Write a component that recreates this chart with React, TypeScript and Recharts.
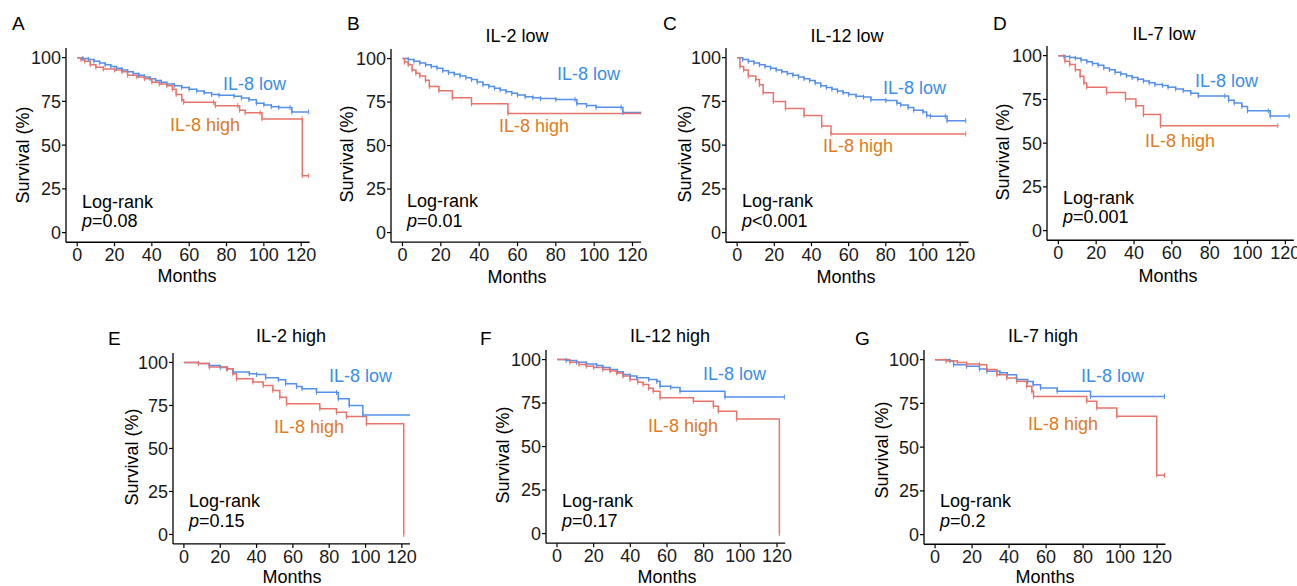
import React from "react"
import { LineChart, Line, XAxis, YAxis } from "recharts"

const monthTicks = [0, 20, 40, 60, 80, 100, 120]
const survTicks = [0, 25, 50, 75, 100]

const panelLetters = ["A", "B", "C", "D", "E", "F", "G"]
const panelTitles = ["", "IL-2 low", "IL-12 low", "IL-7 low", "IL-2 high", "IL-12 high", "IL-7 high"]
const pValues = ["=0.08", "=0.01", "<0.001", "=0.001", "=0.15", "=0.17", "=0.2"]

// [month, survival %]
const lowA = [[0,100],[3,99.5],[6,99],[9,98],[12,97],[15,96],[18,95],[21,94],[24,93],[27,92],[30,91],[33,90],[36,89],[39,88],[42,87],[45,86],[48,85],[52,84],[56,83],[60,82],[64,81],[68,80],[72,79],[76,78.5],[84,78],[88,77],[92,76],[96,74],[100,73],[104,72],[108,71.5],[114,71.5],[115,69],[124,69]]
const highA = [[0,100],[2,99],[4,98],[7,96],[10,94.5],[14,93.5],[20,93],[24,92],[27,90],[32,89],[36,88],[40,86],[44,85],[48,84],[51,82],[53,79],[56,76],[57,74.5],[73,74.5],[74,72.5],[86,72.5],[87,70],[90,68.5],[98,68.5],[99,65],[120.5,65],[120.6,32.5],[124,32.5]]

const lowB = [[0,100],[3,99.5],[6,98.5],[9,97.5],[12,96.5],[15,95.5],[18,94.5],[21,93],[24,92],[27,91],[30,90],[33,89],[36,88],[39,86.5],[42,85],[45,84],[48,83],[51,82],[54,81],[57,80],[60,79],[64,78],[68,77.5],[72,77],[80,76.5],[90,76.5],[91,74],[96,73],[101,72],[114,72],[115,69],[125,69]]
const highB = [[0,100],[1,98],[3,96.5],[5,93.5],[7,91.5],[9,90],[12,87.5],[14,84],[19,81.5],[26,77.5],[36,74],[55,68.5],[125,68.5]]

const lowC = [[0,100],[3,99],[6,98],[9,97],[12,96],[15,95],[18,94],[21,93],[24,92],[27,91],[30,90],[33,89],[36,88],[39,87],[42,85.5],[45,84],[48,83],[51,82],[54,81],[57,80],[60,79],[64,78],[68,77.5],[72,76],[80,75.5],[86,74],[88,73],[92,71.5],[95,70],[100,69],[102,67],[104,66.5],[112,66.5],[113,64],[123,64]]
const highC = [[0,100],[1.5,95],[3.5,93],[6,89.5],[10,87.5],[12,84.5],[14,80],[19.5,75],[26,71],[36,67],[45.5,61],[50.5,56.4],[123,56.4]]

const lowD = [[0,100],[3,99.5],[6,99],[9,98.5],[12,97.5],[15,96.5],[18,95.5],[21,94.5],[24,93],[27,92],[30,90.5],[33,89.5],[36,88.5],[39,87.5],[42,86.5],[45,85.5],[48,84.5],[51,83.5],[55,83],[58,82],[62,81],[66,80],[70,78.5],[74,77],[88,77],[90,74.5],[93,73],[97,71],[100,68.5],[111,68.5],[112,65.5],[122,65.5]]
const highD = [[0,100],[3.5,96.8],[6,95],[9,92],[11.5,88.2],[13.5,84.4],[15,82],[25.5,79],[35.5,75.2],[41,71.4],[45,66.3],[54,60],[116,60]]

const lowE = [[0,100],[8,99.4],[14,98.3],[20,97],[24,96.3],[27,94.4],[36,93.5],[40,93],[45,91.1],[52,90],[56,87.6],[62,86],[65,84.7],[73,82.7],[84,82.5],[85,78.9],[91,75],[98.5,69.5],[125,69.5]]
const highE = [[0,100],[8,99.4],[14,97.3],[23.5,96.3],[27,93.4],[29,90.5],[38,88.6],[43.7,86.6],[49,83.7],[52.8,79.8],[56.5,76],[74.8,73.1],[84,71.1],[89.5,68.6],[100.5,64.4],[121,0]]

const lowF = [[0,100],[5,99.5],[10.7,98.4],[16,97.5],[21.6,96.6],[25,95.5],[28.9,94.3],[33,93],[36.2,91.4],[40,90.5],[43.5,89.5],[50,88.5],[54.4,87.5],[56.2,84.7],[62,84],[67.1,81.8],[91.6,78.5],[124,78.5]]
const highF = [[0,100],[7,98.4],[12,97.2],[16,96.2],[20,95.5],[25,94.3],[29,93.5],[32.6,92.3],[36,90.5],[39.8,88.5],[44,87],[47,85.6],[50,83.5],[52.5,81.8],[56.2,78],[74.4,76.1],[85.3,73.2],[88,70.3],[98,65.9],[121.3,0]]

const lowG = [[0,100],[8,99.2],[10,97.1],[17,96.2],[24,94.7],[28,93.3],[35,92.5],[39,91.4],[44,88.6],[50,87.5],[53,85.7],[57,83.8],[66,81.9],[84,79],[124,79]]
const highG = [[0,100],[6,99.2],[12,98.3],[17,97.5],[24,97.1],[27.9,94.3],[33.4,91.4],[38.8,89.5],[44.2,87.6],[49.5,84.8],[52.3,81.9],[53.2,79],[82,76.2],[87.4,72.4],[98.2,67.6],[119.8,33.9],[124,33.9]]

const lowSeries = [lowA, lowB, lowC, lowD, lowE, lowF, lowG]
const highSeries = [highA, highB, highC, highD, highE, highF, highG]

// pixel layout of each panel: where month 0 / 120 and survival 100 / 0 fall
const layout = [
  { x0: 77, x120: 301, y100: 58, y0: 233, letter: [12, 30], title: [0, 0], ylab: [23, 155], months: [187, 282], low: [223, 90], high: [170, 131], lr: [82, 208], p: [82, 227] },
  { x0: 402, x120: 632, y100: 59, y0: 233, letter: [347, 30], title: [517, 42], ylab: [347, 154], months: [517, 283], low: [557, 80], high: [499, 132], lr: [407, 207], p: [407, 227] },
  { x0: 737, x120: 960, y100: 58, y0: 233, letter: [663, 30], title: [847, 42], ylab: [685, 154], months: [846, 283], low: [883, 94], high: [823, 152], lr: [742, 207], p: [742, 227] },
  { x0: 1058, x120: 1285, y100: 56, y0: 231, letter: [993, 30], title: [1164, 40], ylab: [1003, 152], months: [1168, 282], low: [1195, 87], high: [1145, 147], lr: [1063, 204], p: [1063, 223] },
  { x0: 184, x120: 402, y100: 362, y0: 534, letter: [108, 345], title: [291, 342], ylab: [132, 457], months: [292, 583], low: [329, 382], high: [274, 433], lr: [189, 507], p: [189, 527] },
  { x0: 557, x120: 777, y100: 360, y0: 534, letter: [480, 345], title: [670, 342], ylab: [503, 455], months: [667, 583], low: [703, 380], high: [648, 432], lr: [562, 507], p: [562, 527] },
  { x0: 935, x120: 1157, y100: 360, y0: 535, letter: [855, 345], title: [1043, 342], ylab: [882, 450], months: [1045, 583], low: [1081, 382], high: [1028, 430], lr: [940, 507], p: [940, 527] },
]

const X_MIN = -6
const X_MAX = 124.5
const Y_MIN = -5.5
const Y_MAX = 105.5
const YW = 70
const XH = 40
const MT = 5
const MR = 24

const FONT = "'Liberation Sans', Arial, sans-serif"
const LOW_LINE = "#5590ea"
const HIGH_LINE = "#e8746b"
const LOW_TEXT = "#3a8ee6"
const HIGH_TEXT = "#e07b1f"

const toRows = (pts: number[][]) => pts.map(([m, s]) => ({ m, s }))

// small vertical "+" censor tick at each point
const censor = (color: string) => (props: any) => {
  const { cx, cy, index } = props
  if (cx == null || cy == null || index === 0) return <g key={`c${index}`} />
  return <line key={`c${index}`} x1={cx} x2={cx} y1={cy - 2.5} y2={cy + 2.5} stroke={color} strokeWidth={1} />
}

function Panel({ i }: { i: number }) {
  const L = layout[i]
  const sx = (L.x120 - L.x0) / 120
  const sy = (L.y0 - L.y100) / 100
  const plotLeft = L.x0 + X_MIN * sx
  const plotRight = L.x0 + X_MAX * sx
  const plotTop = L.y100 - (Y_MAX - 100) * sy
  const plotBottom = L.y0 - Y_MIN * sy
  const width = plotRight - plotLeft + YW + MR
  const height = plotBottom - plotTop + MT + XH
  const tickStyle = { fontSize: 18, fill: "#1a1a1a", fontFamily: FONT }
  return (
    <div style={{ position: "absolute", left: plotLeft - YW, top: plotTop - MT }}>
      <LineChart width={width} height={height} margin={{ top: MT, right: MR, bottom: 0, left: 0 }}>
        <XAxis
          type="number"
          dataKey="m"
          domain={[X_MIN, X_MAX]}
          ticks={monthTicks}
          allowDataOverflow
          interval={0}
          height={XH}
          tick={tickStyle}
          tickSize={4}
          tickMargin={2}
          axisLine={{ stroke: "#000", strokeWidth: 1.3 }}
          tickLine={{ stroke: "#000", strokeWidth: 1.2 }}
        />
        <YAxis
          type="number"
          dataKey="s"
          domain={[Y_MIN, Y_MAX]}
          ticks={survTicks}
          allowDataOverflow
          interval={0}
          width={YW}
          tick={tickStyle}
          tickSize={4}
          tickMargin={1}
          axisLine={{ stroke: "#000", strokeWidth: 1.3 }}
          tickLine={{ stroke: "#000", strokeWidth: 1.2 }}
        />
        <Line data={toRows(lowSeries[i])} dataKey="s" type="stepAfter" stroke={LOW_LINE} strokeWidth={1.5} dot={censor(LOW_LINE)} activeDot={false} isAnimationActive={false} />
        <Line data={toRows(highSeries[i])} dataKey="s" type="stepAfter" stroke={HIGH_LINE} strokeWidth={1.5} dot={censor(HIGH_LINE)} activeDot={false} isAnimationActive={false} />
      </LineChart>
    </div>
  )
}

export default function App() {
  return (
    <div style={{ position: "absolute", left: 0, top: 0, width: 1297, height: 586, overflow: "hidden", background: "#fff" }}>
      {layout.map((_, i) => (
        <Panel key={i} i={i} />
      ))}
      <svg width={1297} height={586} style={{ position: "absolute", left: 0, top: 0, pointerEvents: "none" }} fontFamily={FONT} fontSize={18}>
        {layout.map((L, i) => (
          <g key={i}>
            <text x={L.letter[0]} y={L.letter[1]} fontSize={19} fill="#000">{panelLetters[i]}</text>
            {panelTitles[i] && (
              <text x={L.title[0]} y={L.title[1]} textAnchor="middle" fill="#000">{panelTitles[i]}</text>
            )}
            <text transform={`translate(${L.ylab[0]},${L.ylab[1]}) rotate(-90)`} textAnchor="middle" dy="0.35em" fill="#000">Survival (%)</text>
            <text x={L.months[0]} y={L.months[1]} textAnchor="middle" fill="#000">Months</text>
            <text x={L.low[0]} y={L.low[1]} fill={LOW_TEXT}>IL-8 low</text>
            <text x={L.high[0]} y={L.high[1]} fill={HIGH_TEXT}>IL-8 high</text>
            <text x={L.lr[0]} y={L.lr[1]} fill="#000">Log-rank</text>
            <text x={L.p[0]} y={L.p[1]} fill="#000">
              <tspan fontStyle="italic">p</tspan>
              {pValues[i]}
            </text>
          </g>
        ))}
      </svg>
    </div>
  )
}
